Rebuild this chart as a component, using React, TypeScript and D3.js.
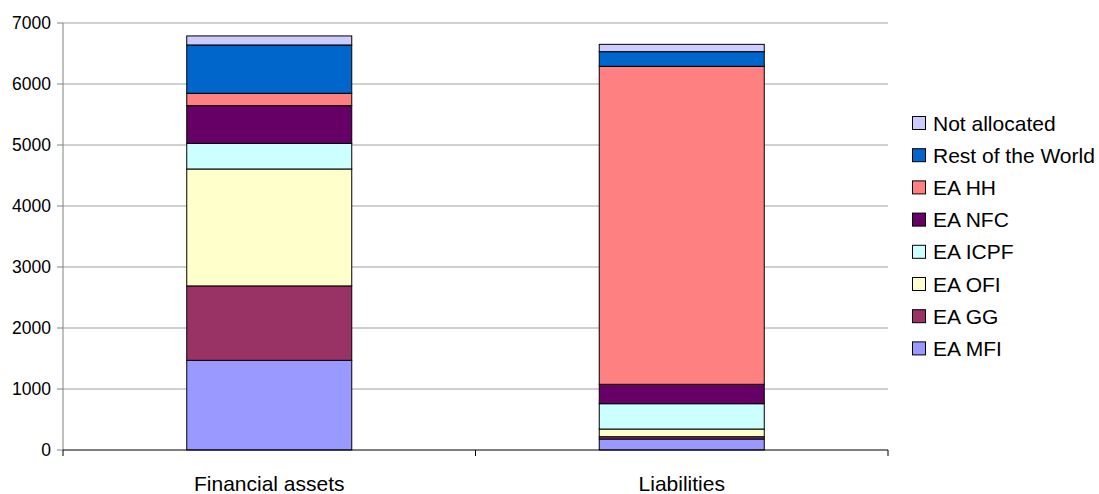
import React, { useEffect, useRef } from "react";
import * as d3 from "d3";

const categories = ["Financial assets", "Liabilities"];
const seriesNames = ["EA MFI", "EA GG", "EA OFI", "EA ICPF", "EA NFC", "EA HH", "Rest of the World", "Not allocated"];
const seriesColors = ["#9999FF", "#993366", "#FFFFCC", "#CCFFFF", "#660066", "#FF8080", "#0066CC", "#CCCCFF"];
// values per series: [Financial assets, Liabilities]
const mfi = [1470, 180];
const gg = [1220, 38];
const ofi = [1917, 126];
const icpf = [420, 415];
const nfc = [618, 318];
const hh = [203, 5213];
const row = [792, 240];
const notAllocated = [148, 120];
const yTicks = [0, 1000, 2000, 3000, 4000, 5000, 6000, 7000];

const seriesValues = [mfi, gg, ofi, icpf, nfc, hh, row, notAllocated];

const width = 1099;
const height = 494;
const margin = { top: 23, right: 211, bottom: 44, left: 63 };

export default function App() {
	const ref = useRef<SVGSVGElement>(null);

	useEffect(() => {
		const svg = d3.select(ref.current);
		svg.selectAll("*").remove();

		const x0 = margin.left;
		const x1 = width - margin.right;
		const yBottom = height - margin.bottom;

		const x = d3.scaleBand<string>().domain(categories).range([x0, x1]).padding(0);
		const y = d3.scaleLinear().domain([0, 7000]).range([yBottom, margin.top]);
		const barW = x.bandwidth() * 0.4;

		// gridlines
		svg.append("g")
			.selectAll("line")
			.data(yTicks.filter(t => t > 0))
			.join("line")
			.attr("x1", x0)
			.attr("x2", x1)
			.attr("y1", d => y(d))
			.attr("y2", d => y(d))
			.attr("stroke", "#a0a0a0")
			.attr("stroke-width", 1);

		// stacked bars
		const rows = categories.map((c, i) => {
			const r: any = { category: c };
			seriesNames.forEach((s, j) => { r[s] = seriesValues[j][i]; });
			return r;
		});
		const stack = d3.stack<any>().keys(seriesNames)(rows);

		stack.forEach((layer, j) => {
			svg.append("g")
				.selectAll("rect")
				.data(layer)
				.join("rect")
				.attr("x", d => (x(d.data.category) as number) + x.bandwidth() / 2 - barW / 2)
				.attr("y", d => y(d[1]))
				.attr("width", barW)
				.attr("height", d => y(d[0]) - y(d[1]))
				.attr("fill", seriesColors[j])
				.attr("stroke", "#000000")
				.attr("stroke-width", 1);
		});

		// y axis
		const yAxis = svg.append("g");
		yAxis.append("line")
			.attr("x1", x0).attr("x2", x0)
			.attr("y1", margin.top).attr("y2", yBottom)
			.attr("stroke", "#808080");
		yAxis.selectAll("line.tick")
			.data(yTicks)
			.join("line")
			.attr("class", "tick")
			.attr("x1", x0 - 6).attr("x2", x0)
			.attr("y1", d => y(d)).attr("y2", d => y(d))
			.attr("stroke", "#808080");
		yAxis.selectAll("text")
			.data(yTicks)
			.join("text")
			.attr("x", x0 - 12)
			.attr("y", d => y(d))
			.attr("dy", "0.36em")
			.attr("text-anchor", "end")
			.style("font-family", "'Liberation Sans', Arial, sans-serif")
			.style("font-size", "17.5px")
			.style("fill", "#000000")
			.text(d => d);

		// x axis
		const xAxis = svg.append("g");
		xAxis.append("line")
			.attr("x1", x0).attr("x2", x1)
			.attr("y1", yBottom).attr("y2", yBottom)
			.attr("stroke", "#000000");
		const edges = [x0, ...categories.map(c => (x(c) as number) + x.bandwidth())];
		xAxis.selectAll("line.tick")
			.data(edges)
			.join("line")
			.attr("class", "tick")
			.attr("x1", d => d).attr("x2", d => d)
			.attr("y1", yBottom).attr("y2", yBottom + 6)
			.attr("stroke", "#000000");
		xAxis.selectAll("text")
			.data(categories)
			.join("text")
			.attr("x", d => (x(d) as number) + x.bandwidth() / 2)
			.attr("y", yBottom + 41)
			.attr("text-anchor", "middle")
			.style("font-family", "'Liberation Sans', Arial, sans-serif")
			.style("font-size", "21px")
			.style("fill", "#000000")
			.text(d => d);

		// legend (reversed order)
		const legendItems = seriesNames.map((s, i) => ({ name: s, color: seriesColors[i] })).reverse();
		const legend = svg.append("g");
		const lg = legend.selectAll("g")
			.data(legendItems)
			.join("g")
			.attr("transform", (d, i) => `translate(912, ${123 + i * 32.2})`);
		lg.append("rect")
			.attr("x", 0.5)
			.attr("y", -6.5)
			.attr("width", 13)
			.attr("height", 13)
			.attr("fill", d => d.color)
			.attr("stroke", "#000000");
		lg.append("text")
			.attr("x", 21)
			.attr("y", 0)
			.attr("dy", "0.36em")
			.style("font-family", "'Liberation Sans', Arial, sans-serif")
			.style("font-size", "21px")
			.style("fill", "#000000")
			.text(d => d.name);
	}, []);

	return (
		<svg ref={ref} width={width} height={height} style={{ position: "absolute", left: 0, top: 0, background: "#ffffff" }} />
	);
}
